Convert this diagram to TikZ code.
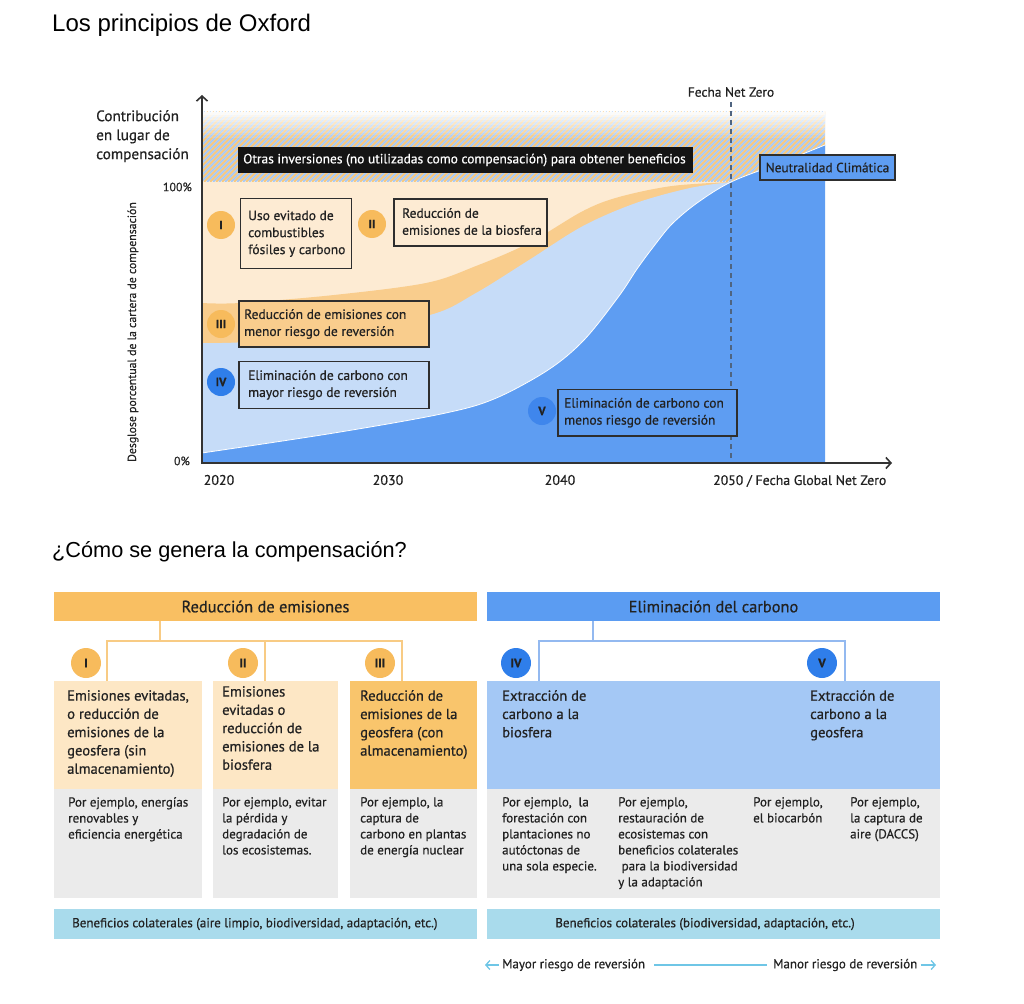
\documentclass[tikz,border=0pt]{standalone}
\usepackage{fontspec}
\setmainfont{PT Sans}[FakeBold=0.6]
\newfontfamily\arialf{Liberation Sans}
\usetikzlibrary{arrows.meta}
\newcommand\myfs[2]{\fontsize{#1}{#2}\selectfont}
\definecolor{txt}{HTML}{222222}
\definecolor{bord}{HTML}{2E2E2E}
\definecolor{axc}{HTML}{333333}
\definecolor{beige}{HTML}{FDEBD3}
\definecolor{orband}{HTML}{F9CD8D}
\definecolor{lblue}{HTML}{C6DCF8}
\definecolor{dblue}{HTML}{5E9DF2}
\definecolor{hor}{HTML}{F6C77D}
\definecolor{hbl}{HTML}{A9C9F2}
\definecolor{circor}{HTML}{F7BB5C}
\definecolor{circbl}{HTML}{2F7EEA}
\definecolor{circv}{HTML}{3F86EC}
\definecolor{hdor}{HTML}{F9BF62}
\definecolor{hdbl}{HTML}{5B9CF2}
\definecolor{boxor}{HTML}{FDE7C5}
\definecolor{boxordk}{HTML}{F9C56C}
\definecolor{boxbl}{HTML}{A4C8F5}
\definecolor{grayb}{HTML}{EBEBEB}
\definecolor{benef}{HTML}{A9DBEC}
\definecolor{linor}{HTML}{F8CB84}
\definecolor{linbl}{HTML}{93B9F0}
\definecolor{arrc}{HTML}{6FC6E6}
\definecolor{dashc}{HTML}{4F6480}
\begin{document}
\begin{tikzpicture}[x=1pt,y=-1pt,
  every node/.style={inner sep=0pt, text=txt},
  cbox/.style={draw=bord, line width=1.5pt},
  ctext/.style={anchor=west, align=left, font=\myfs{13.5}{17}},
  rnum/.style={circle, minimum size=28pt, font=\bfseries\myfs{12}{12}},
  bnum/.style={circle, minimum size=30pt, font=\bfseries\myfs{12.5}{12.5}},
  hdr/.style={minimum height=29pt, font=\myfs{16.4}{18}},
  btext/.style={anchor=north west, align=left, font=\myfs{14.6}{18.3}},
  etext/.style={anchor=north west, align=left, font=\myfs{13}{16}},
  conor/.style={draw=linor, line width=1.8pt},
  conbl/.style={draw=linbl, line width=1.8pt},
  axisline/.style={draw=axc, line width=1.6pt},
  lbl/.style={font=\myfs{14}{14}},
]
\useasboundingbox (0,0) rectangle (1024,1003);
% titles
\node[anchor=base west, font=\arialf\myfs{24}{28}, text=black] (title1) at (52,32) {Los principios de Oxford};
\node[anchor=base west, font=\arialf\myfs{21.7}{26}, text=black] (title2) at (52,557) {¿Cómo se genera la compensación?};

% hatched zone
\begin{scope}
\clip (202,112) rectangle (825,182);
\fill[white] (202,112) rectangle (825,182);
\foreach \i in {0,...,120} {
  \draw[hor, line width=1.9pt] ({132+\i*6},182) -- ({202+\i*6},112);
  \draw[hbl, line width=1.9pt] ({135+\i*6},182) -- ({205+\i*6},112);
}
\foreach \k in {0,...,9} {
  \pgfmathsetmacro\op{0.92-\k*0.09}
  \fill[white, opacity=\op] (202,{112+\k*2.6}) rectangle (825,{114.7+\k*2.6});
}
\end{scope}
\draw[gray, line width=0.8pt] (202,182) -- (731,182);

% stacked areas
\fill[beige] (202,182) rectangle (731,463);
\fill[orband] (202,463) -- plot[smooth, tension=0.55] coordinates {(202,303) (240,303) (334,295) (426,283) (476,266) (529,243) (583,211) (619,197) (672,186) (731,182)} -- (731,463) -- cycle;
\fill[lblue] (202,463) -- plot[smooth, tension=0.55] coordinates {(202,343) (245,342) (330,333) (430,315) (476,293) (529,260) (583,226) (636,203) (690,188) (731,182)} -- (731,463) -- cycle;
\fill[dblue] (202,463) -- plot[smooth, tension=0.55] coordinates {(202,453) (334,433) (441,414) (494,399) (548,370) (584,340) (619,296) (637,269) (654,246) (672,224) (697,203) (731,182) (780,163) (825,145)} -- (825,463) -- cycle;
\draw[white, line width=0.8pt] plot[smooth, tension=0.55] coordinates {(202,453) (334,433) (441,414) (494,399) (548,370) (584,340) (619,296) (637,269) (654,246) (672,224) (697,203) (731,182) (780,163) (825,145)};

% net zero dashed line
\draw[dashc, line width=1.1pt, dash pattern=on 5pt off 4pt] (731,102) -- (731,463);
\node[font=\myfs{13.4}{13}] (fnz) at (731,92) {Fecha Net Zero};

% axes
\draw[axisline, -{Straight Barb[length=5pt,width=11pt]}] (201,463) -- (892,463);
\draw[axisline, -{Straight Barb[length=5pt,width=11pt]}] (202,464) -- (202,95);

% axis labels
\node[anchor=north west, align=left, font=\myfs{15.2}{19}] (ylab) at (96,110) {Contribución\\en lugar de\\compensación};
\node[anchor=east, font=\myfs{12}{12}] (p100) at (192,187) {100\%};
\node[anchor=east, font=\myfs{12}{12}] (p0) at (190,461) {0\%};
\node[rotate=90, font=\myfs{11.8}{12}] (ylab2) at (133,332) {Desglose porcentual de la cartera de compensación};
\node[lbl] (x2020) at (219,480) {2020};
\node[lbl] (x2030) at (388,480) {2030};
\node[lbl] (x2040) at (560,480) {2040};
\node[lbl, anchor=west, font=\myfs{13.8}{14}] (x2050) at (713,481) {2050 / Fecha Global Net Zero};

% black box
\node[fill=black!92, minimum width=455pt, minimum height=26pt] (otras) at (465.5,160) {};
\node[anchor=west, text=white, font=\myfs{13.45}{13}] (otrast) at (243,160) {Otras inversiones (no utilizadas como compensación) para obtener beneficios};

% neutrality box
\node[cbox, fill=dblue, minimum width=135pt, minimum height=25pt, font=\myfs{13.3}{13}] (neut) at (827.5,167.5) {Neutralidad Climática};

% chart boxes
\node[cbox, fill=beige, minimum width=111pt, minimum height=70pt] (bI) at (296,233.7) {};
\node[ctext] (tI) at (248,233.7) {Uso evitado de\\combustibles\\fósiles y carbono};
\node[cbox, fill=beige, minimum width=153pt, minimum height=47pt] (bII) at (470.5,222.4) {};
\node[ctext] (tII) at (402,221.5) {Reducción de\\emisiones de la biosfera};
\node[cbox, fill=orband, minimum width=190pt, minimum height=46pt] (bIII) at (334.2,324) {};
\node[ctext] (tIII) at (244,324) {Reducción de emisiones con\\menor riesgo de reversión};
\node[cbox, fill=lblue, minimum width=190pt, minimum height=47pt] (bIV) at (334.2,385) {};
\node[ctext] (tIV) at (248,385) {Eliminación de carbono con\\mayor riesgo de reversión};
\node[cbox, fill=dblue, minimum width=179pt, minimum height=46.5pt] (bV) at (647.5,412.7) {};
\node[ctext] (tV) at (564,412.7) {Eliminación de carbono con\\menos riesgo de reversión};

% chart circles
\node[rnum, fill=circor] (cI) at (221,225) {I};
\node[rnum, fill=circor] (cII) at (372,224) {II};
\node[rnum, fill=circor] (cIII) at (221,324) {III};
\node[rnum, fill=circbl] (cIV) at (221,382) {IV};
\node[rnum, fill=circv] (cV) at (542,411) {V};

% ---------- bottom ----------
\node[hdr, fill=hdor, minimum width=423pt] (hR) at (265.5,606.5) {Reducción de emisiones};
\node[hdr, fill=hdbl, minimum width=453pt] (hE) at (713.5,606.5) {Eliminación del carbono};

% category boxes
\node[fill=boxor, minimum width=148pt, minimum height=108pt] (b1) at (128,735) {};
\node[fill=boxor, minimum width=125pt, minimum height=108pt] (b2) at (275.5,735) {};
\node[fill=boxordk, minimum width=127pt, minimum height=108pt] (b3) at (413.5,735) {};
\node[fill=boxbl, minimum width=453pt, minimum height=108pt] (b45) at (713.5,735) {};
\node[fill=grayb, minimum width=148pt, minimum height=109pt] (g1) at (128,843.5) {};
\node[fill=grayb, minimum width=125pt, minimum height=109pt] (g2) at (275.5,843.5) {};
\node[fill=grayb, minimum width=127pt, minimum height=109pt] (g3) at (413.5,843.5) {};
\node[fill=grayb, minimum width=453pt, minimum height=109pt] (g45) at (713.5,843.5) {};
\node[fill=benef, minimum width=423pt, minimum height=30pt] (bnL) at (265.5,924) {};
\node[fill=benef, minimum width=453pt, minimum height=30pt] (bnR) at (713.5,924) {};
\node[anchor=west, font=\myfs{13}{14}] (bnLt) at (72,924) {Beneficios colaterales (aire limpio, biodiversidad, adaptación, etc.)};
\node[font=\myfs{13}{14}] (bnRt) at (705,924) {Beneficios colaterales (biodiversidad, adaptación, etc.)};

% connectors
\coordinate (jL) at (160,641);
\coordinate (c1) at (107,641);
\coordinate (c2) at (265,641);
\coordinate (c3) at (402,641);
\draw[conor] (hR.south -| jL) -- (jL);
\draw[conor] (b1.north -| c1) -- (c1) -- (c3) -- (b3.north -| c3);
\draw[conor] (c2) -- (b2.north -| c2);
\coordinate (jR) at (593,641);
\coordinate (c4) at (539,641);
\coordinate (c5) at (845,641);
\draw[conbl] (hE.south -| jR) -- (jR);
\draw[conbl] (b45.north -| c4) -- (c4) -- (c5) -- (b45.north -| c5);

% circles
\node[bnum, fill=circor] (nI) at (86,663) {I};
\node[bnum, fill=circor] (nII) at (243,663) {II};
\node[bnum, fill=circor] (nIII) at (380,663) {III};
\node[bnum, fill=circbl] (nIV) at (516,663) {IV};
\node[bnum, fill=circbl] (nV) at (822,663) {V};

% category texts
\node[btext] (t1) at (67,690) {Emisiones evitadas,\\o reducción de\\emisiones de la\\geosfera (sin\\almacenamiento)};
\node[btext] (t2) at (222,686) {Emisiones\\evitadas o\\reducción de\\emisiones de la\\biosfera};
\node[btext] (t3) at (360,690) {Reducción de\\emisiones de la\\geosfera (con\\almacenamiento)};
\node[btext] (t4) at (502,690) {Extracción de\\carbono a la\\biosfera};
\node[btext] (t5) at (810,690) {Extracción de\\carbono a la\\geosfera};

% example texts
\node[etext] (e1) at (68,797) {Por ejemplo, energías\\renovables y\\eficiencia energética};
\node[etext] (e2) at (222,797) {Por ejemplo, evitar\\la pérdida y\\degradación de\\los ecosistemas.};
\node[etext] (e3) at (360,797) {Por ejemplo, la\\captura de\\carbono en plantas\\de energía nuclear};
\node[etext] (e4) at (502,797) {Por ejemplo,~ la\\forestación con\\plantaciones no\\autóctonas de\\una sola especie.};
\node[etext] (e5) at (618,797) {Por ejemplo,\\restauración de\\ecosistemas con\\beneficios colaterales\\\ para la biodiversidad\\y la adaptación};
\node[etext] (e6) at (753,797) {Por ejemplo,\\el biocarbón};
\node[etext] (e7) at (850,797) {Por ejemplo,\\la captura de\\aire (DACCS)};

% risk arrow row
\node[anchor=west, font=\myfs{13}{14}] (mayor) at (502,965) {Mayor riesgo de reversión};
\node[anchor=west, font=\myfs{13}{14}] (menor) at (773,965) {Manor riesgo de reversión};
\coordinate (al) at (485,965);
\coordinate (ar) at (936,965);
\draw[arrc, line width=1.3pt, -{Straight Barb[length=4pt,width=9pt]}] ([xshift=-3pt]mayor.west) -- (al);
\draw[arrc, line width=1.3pt] ([xshift=9pt]mayor.east) -- ([xshift=-6pt]menor.west);
\draw[arrc, line width=1.3pt, -{Straight Barb[length=4pt,width=9pt]}] ([xshift=3pt]menor.east) -- (ar);
\end{tikzpicture}
\end{document}
